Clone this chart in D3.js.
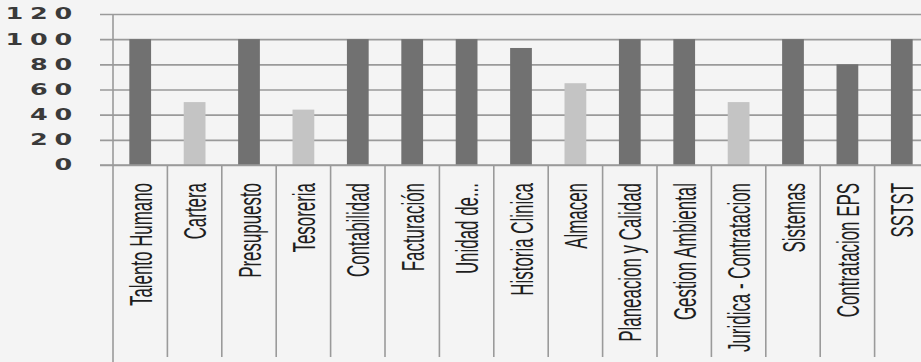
<!DOCTYPE html>
<html>
<head>
<meta charset="utf-8">
<script src="https://cdn.jsdelivr.net/npm/d3@7"></script>
<style>
  body { margin: 0; background: #f4f4f4; }
  svg { display: block; }
</style>
</head>
<body>
<div id="chart"></div>
<script>
// data
const categories = ["Talento Humano", "Cartera", "Presupuesto", "Tesoreria", "Contabilidad",
    "Facturación", "Unidad de...", "Historia Clinica", "Almacen", "Planeacion y Calidad",
    "Gestion Ambiental", "Juridica - Contratacion", "Sistemas", "Contratacion EPS", "SSTST"];
const values = [100, 50, 100, 44, 100, 100, 100, 93, 65, 100, 100, 50, 100, 80, 100];
const yTicks = [0, 20, 40, 60, 80, 100, 120];

const W = 921, H = 362;
const axisX = 113;
const bandW = 54.4;
const plotTop = 14, base = 165;

const svg = d3.select('#chart').append('svg')
    .attr('width', W)
    .attr('height', H);

svg.append('rect')
    .attr('width', W).attr('height', H)
    .attr('fill', '#f4f4f4');

const xScale = d3.scaleBand()
    .domain(categories)
    .range([axisX, axisX + bandW * categories.length])
    .padding(0);

const yScale = d3.scaleLinear()
    .domain([0, 120])
    .range([base, plotTop]);

// horizontal grid lines + outer ticks
svg.append('g')
    .attr('transform', 'translate(100, 0)')
    .call(d3.axisLeft(yScale)
        .tickValues(yTicks)
        .tickSize(-(W - 100))
        .tickFormat(''))
    .call(g => g.select('.domain').remove())
    .call(g => g.selectAll('.tick line')
        .attr('stroke', '#9a9a9a')
        .attr('stroke-width', 1.6));

// y tick labels (wide, stretched look)
svg.append('g')
    .selectAll('text')
    .data(yTicks)
    .enter()
    .append('text')
    .attr('transform', d => `translate(79, ${yScale(d)}) scale(1.7, 1)`)
    .attr('dy', '0.36em')
    .attr('text-anchor', 'end')
    .attr('font-family', 'DejaVu Sans')
    .attr('font-size', 15)
    .attr('font-weight', 'bold')
    .attr('letter-spacing', 4)
    .attr('fill', '#3a3a3a')
    .text(d => d);

// bars
const colorFor = v => v < 70 ? '#c4c4c4' : '#717171';
svg.append('g')
    .selectAll('rect')
    .data(categories)
    .enter()
    .append('rect')
    .attr('x', (c) => xScale(c) + xScale.bandwidth() * 0.3)
    .attr('width', xScale.bandwidth() * 0.4)
    .attr('y', (c, i) => yScale(values[i]))
    .attr('height', (c, i) => base - yScale(values[i]))
    .attr('fill', (c, i) => colorFor(values[i]));

// bottom axis line
svg.append('line')
    .attr('x1', 100).attr('x2', W)
    .attr('y1', base).attr('y2', base)
    .attr('stroke', '#9a9a9a')
    .attr('stroke-width', 1.6);

// vertical axis line
svg.append('line')
    .attr('x1', axisX).attr('x2', axisX)
    .attr('y1', plotTop).attr('y2', H)
    .attr('stroke', '#9a9a9a')
    .attr('stroke-width', 1.6);

// category separators
svg.append('g')
    .selectAll('line')
    .data(categories)
    .enter()
    .append('line')
    .attr('x1', c => xScale(c) + xScale.bandwidth())
    .attr('x2', c => xScale(c) + xScale.bandwidth())
    .attr('y1', base)
    .attr('y2', 357)
    .attr('stroke', '#9a9a9a')
    .attr('stroke-width', 1.6);

// category labels: narrow along the text, tall across it
svg.append('g')
    .selectAll('text')
    .data(categories)
    .enter()
    .append('text')
    .attr('transform', c => `translate(${xScale(c) + xScale.bandwidth() / 2 + 11.5}, 183) rotate(-90) scale(0.845, 1.54)`)
    .attr('text-anchor', 'end')
    .attr('font-family', "'Liberation Sans', Arial, sans-serif")
    .attr('font-size', 20)
    .attr('fill', '#1e1e1e')
    .text(c => c);
</script>
</body>
</html>
